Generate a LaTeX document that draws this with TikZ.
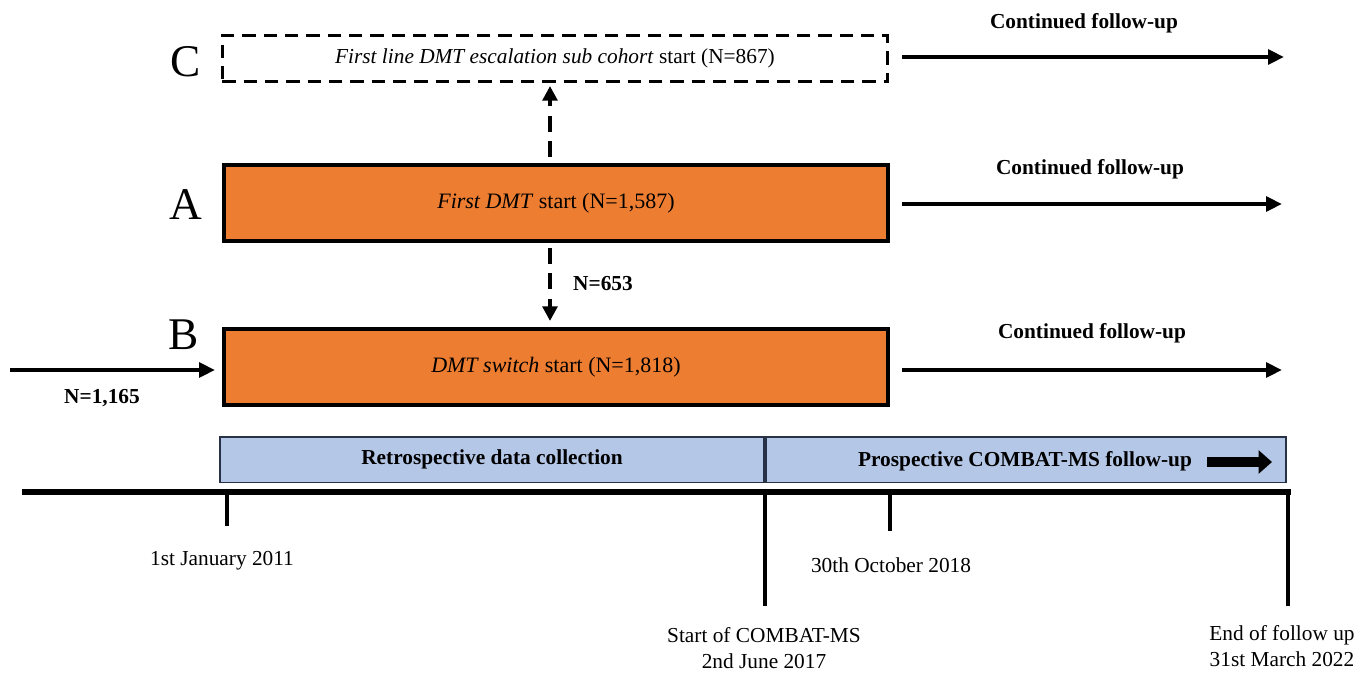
\documentclass[tikz,border=0pt]{standalone}
\usepackage{fontspec}
\setmainfont{Liberation Serif}
\usetikzlibrary{arrows.meta}
\definecolor{boxorange}{RGB}{237,125,49}
\definecolor{boxblue}{RGB}{180,199,231}
\definecolor{boxline}{RGB}{40,50,70}
\tikzset{
  cohort/.style={draw=black, line width=3pt, fill=boxorange, minimum width=498pt, minimum height=57pt, inner sep=0pt, font=\fontsize{16.5}{19}\selectfont},
  dashbox/.style={draw=black, line width=2.2pt, dash pattern=on 10pt off 6pt, minimum width=499pt, minimum height=35pt, inner sep=0pt, font=\fontsize{16}{19}\selectfont},
  periodbox/.style={draw=boxline, line width=1pt, fill=boxblue, minimum height=34pt, inner sep=0pt, font=\bfseries\fontsize{16}{19}\selectfont},
  biglabel/.style={font=\fontsize{34}{38}\selectfont, inner sep=0pt},
  boldlabel/.style={font=\bfseries\fontsize{16}{19}\selectfont, inner sep=0pt},
  datelabel/.style={font=\fontsize{16}{20}\selectfont, align=center, inner sep=0pt},
  flow/.style={line width=3pt, -{Triangle[length=12pt,width=11pt]}},
  dflow/.style={line width=3pt, dash pattern=on 12pt off 7pt, -{Triangle[length=11pt,width=11pt]}},
  tick/.style={line width=3pt},
}
\begin{document}
\begin{tikzpicture}[x=0.75pt,y=-0.75pt]
\useasboundingbox (0,0) rectangle (1365,672);
% cohort boxes
\node[dashbox] (C) at (555,58.5) {\textit{First line DMT escalation sub cohort} start (N=867)};
\node[cohort] (A) at (556,203) {\textit{First DMT} start (N=1,587)};
\node[cohort] (B) at (556,367) {\textit{DMT switch} start (N=1,818)};
% big letters
\node[biglabel] (lC) at (186,62) {C};
\node[biglabel] (lA) at (186,205) {A};
\node[biglabel] (lB) at (184,335) {B};
% vertical dashed arrows
\coordinate (Atop) at (550,157);
\coordinate (Cbot) at (550,86);
\draw[dflow] (Atop) -- (Cbot);
\coordinate (Abot) at (550,248);
\coordinate (Btop) at (550,321);
\draw[dflow] (Abot) -- (Btop);
\node[boldlabel] (n653) at (603,284) {N=653};
% incoming arrow to B
\coordinate (inS) at (10,370);
\coordinate (inE) at (215,370);
\draw[flow] (inS) -- (inE);
\node[boldlabel] (n1165) at (102,398) {N=1,165};
% continued follow-up arrows
\coordinate (cS) at (902,57);
\coordinate (cE) at (1284,57);
\draw[flow] (cS) -- (cE);
\node[boldlabel] (cL) at (1084,23) {Continued follow-up};
\coordinate (aS) at (902,204);
\coordinate (aE) at (1282,204);
\draw[flow] (aS) -- (aE);
\node[boldlabel] (aL) at (1090,169) {Continued follow-up};
\coordinate (bS) at (902,370);
\coordinate (bE) at (1282,370);
\draw[flow] (bS) -- (bE);
\node[boldlabel] (bL) at (1092,333) {Continued follow-up};
% period boxes
\node[periodbox, minimum width=408pt] (retro) at (492,459.5) {Retrospective data collection};
\node[periodbox, minimum width=390pt] (prosp) at (1026,459.5) {};
\node[boldlabel] (prospT) at (1025,461) {Prospective COMBAT-MS follow-up};
\coordinate (paS) at (1207,462);
\coordinate (paE) at (1272,462);
\draw[line width=7.5pt, -{Triangle[length=10pt,width=17pt]}] (paS) -- (paE);
% timeline
\coordinate (tS) at (22,492);
\coordinate (tE) at (1291,492);
\draw[line width=3.8pt] (tS) -- (tE);
\coordinate (t1a) at (227,492); \coordinate (t1b) at (227,526);
\coordinate (t2a) at (765,492); \coordinate (t2b) at (765,606);
\coordinate (t3a) at (890,492); \coordinate (t3b) at (890,531);
\coordinate (t4a) at (1288,490.6); \coordinate (t4b) at (1288,606);
\draw[tick] (t1a) -- (t1b);
\draw[tick] (t2a) -- (t2b);
\draw[tick] (t3a) -- (t3b);
\draw[tick] (t4a) -- (t4b);
% date labels
\node[datelabel] (d1) at (222,561) {1st January 2011};
\node[datelabel] (d3) at (891,565) {30th October 2018};
\node[datelabel] (d2) at (764,648) {Start of COMBAT-MS\\2nd June 2017};
\node[datelabel] (d4) at (1282,646) {End of follow up\\31st March 2022};
\end{tikzpicture}
\end{document}
